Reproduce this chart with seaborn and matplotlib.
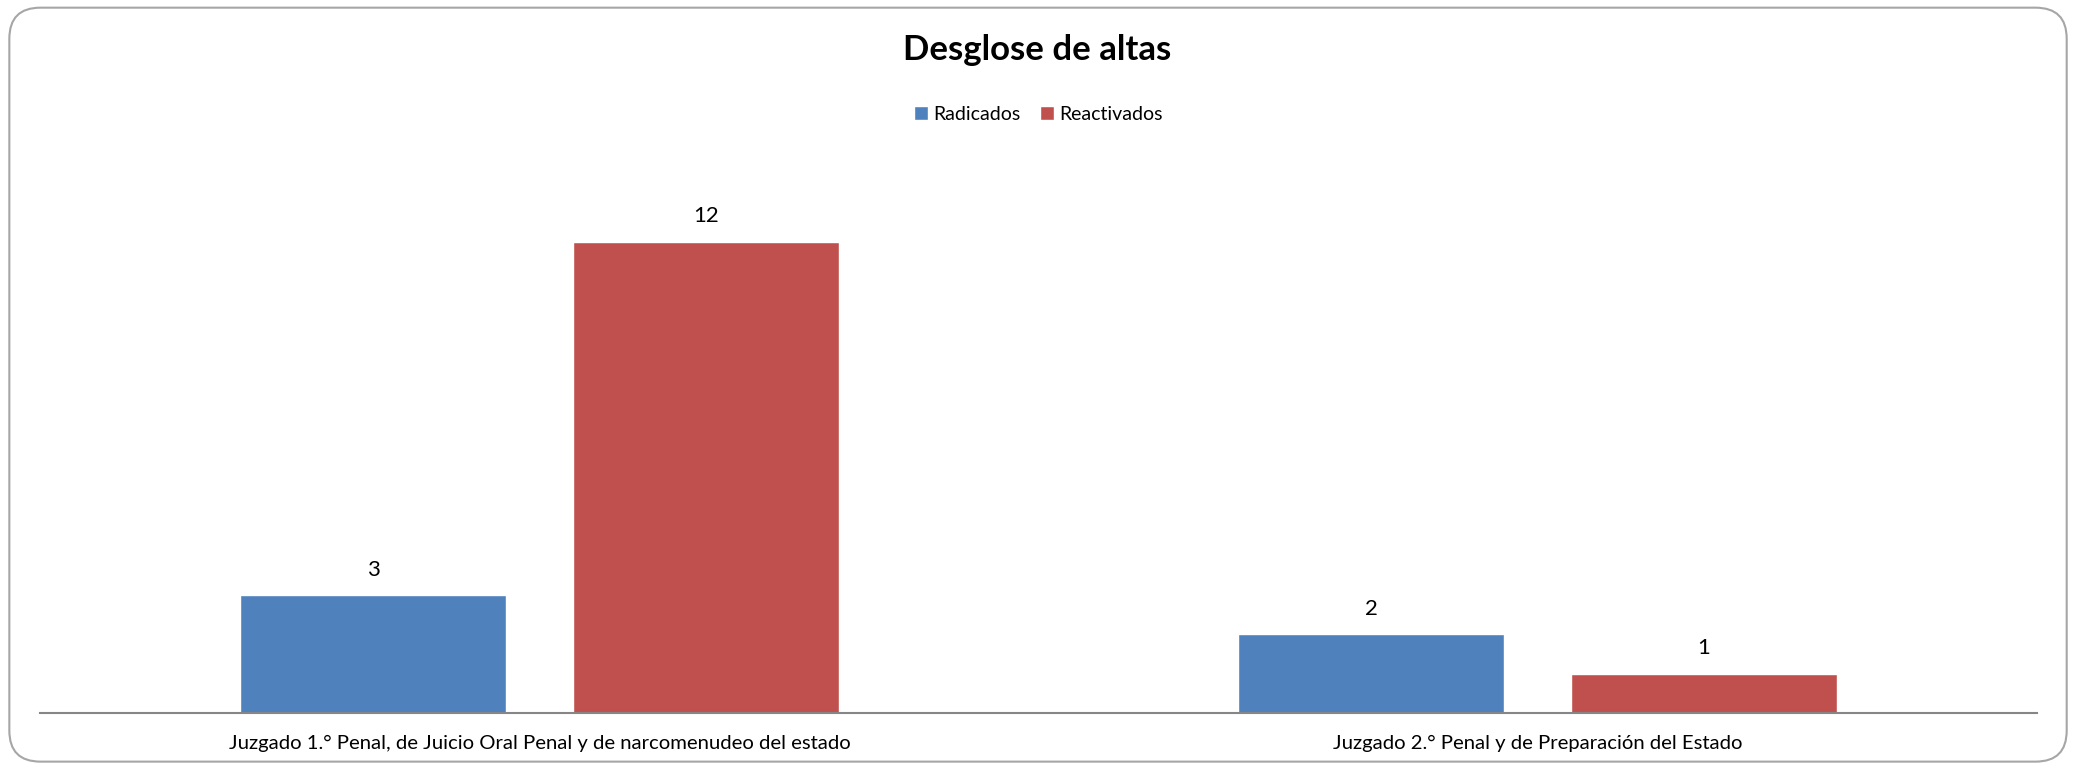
import pandas as pd
import seaborn as sns
import matplotlib.pyplot as plt
from matplotlib.patches import FancyBboxPatch

# datos
juzgados = ["Juzgado 1.° Penal, de Juicio Oral Penal y de narcomenudeo del estado",
            "Juzgado 2.° Penal y de Preparación del Estado"]
radicados = [3, 2]
reactivados = [12, 1]
series = ["Radicados", "Reactivados"]
colores = ["#4F81BD", "#C0504D"]

df = pd.DataFrame({
    "juzgado": juzgados * 2,
    "tipo": [series[0]] * 2 + [series[1]] * 2,
    "valor": radicados + reactivados,
})

sns.set_theme(style="white")
plt.rcParams['font.family'] = ['Lato', 'DejaVu Sans']
plt.rcParams['text.color'] = 'black'
plt.rcParams['xtick.color'] = 'black'

fig = plt.figure(figsize=(20.75, 7.67), dpi=100)
ax = fig.add_axes([0.0195, 0.0704, 0.9620, 0.7171])

sns.barplot(data=df, x="juzgado", y="valor", hue="tipo", palette=colores,
            width=0.667, gap=0.2, saturation=1, ax=ax, legend=True)

for c in ax.containers:
    ax.bar_label(c, padding=11, fontsize=16, color="black")

ax.set_ylim(0, 14)
ax.set_xlim(-0.5, 1.5)
ax.set_xlabel("")
ax.set_ylabel("")
ax.set_yticks([])
ax.tick_params(axis="x", length=0, pad=16, labelsize=14.6, labelcolor="black")
for s in ["left", "top", "right"]:
    ax.spines[s].set_visible(False)
ax.spines["bottom"].set_color("#868686")
ax.spines["bottom"].set_linewidth(1.5)

ax.legend(loc="center", bbox_to_anchor=(0.5, 1.088), ncol=2, frameon=False,
          fontsize=14, handlelength=0.7, handleheight=0.7, handletextpad=0.3,
          columnspacing=1.0)

fig.text(0.5, 0.935, "Desglose de altas", ha="center", va="center",
         fontsize=25, fontweight="bold", color="black")

# marco redondeado
marco = FancyBboxPatch((0.0045, 0.007), 0.9915, 0.983,
                       boxstyle="round,pad=0,rounding_size=0.015",
                       transform=fig.transFigure, facecolor="none",
                       edgecolor="#a6a6a6", linewidth=1.5, mutation_aspect=2.7)
fig.patches.append(marco)

plt.savefig("out.png", dpi=100)
